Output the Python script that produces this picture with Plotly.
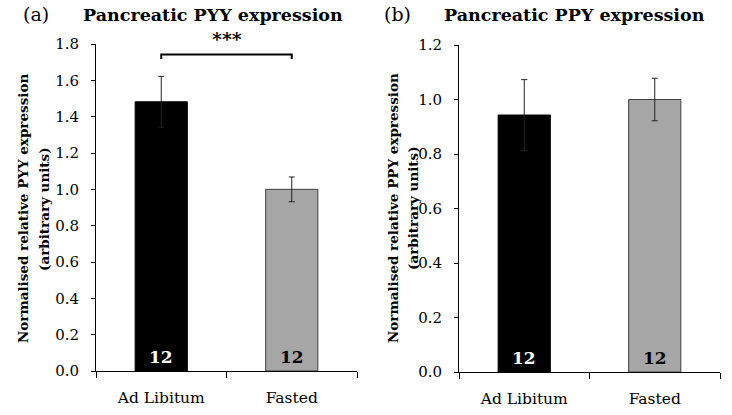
import plotly.graph_objects as go

categories = ["Ad Libitum", "Fasted"]
pyy_values = [1.482, 1.0]
pyy_errors = [0.14, 0.068]
ppy_values = [0.943, 1.0]
ppy_errors = [0.13, 0.078]
n_labels = ["12", "12"]
bar_colors = ["#000000", "#a6a6a6"]
bar_lines = ["#000000", "#404040"]
n_colors = ["#ffffff", "#000000"]
pyy_ticks = [0, 0.2, 0.4, 0.6, 0.8, 1.0, 1.2, 1.4, 1.6, 1.8]
ppy_ticks = [0, 0.2, 0.4, 0.6, 0.8, 1.0, 1.2]

FONT = "DejaVu Serif"
W, H = 732, 415

fig = go.Figure()
for vals, errs, xa, ya in [(pyy_values, pyy_errors, "x", "y"), (ppy_values, ppy_errors, "x2", "y2")]:
    fig.add_trace(go.Bar(
        x=categories, y=vals, xaxis=xa, yaxis=ya, width=0.4,
        marker=dict(color=bar_colors, line=dict(color=bar_lines, width=1)),
        error_y=dict(type="data", array=errs, visible=True, color="#222222", thickness=1, width=3),
        showlegend=False, hoverinfo="skip",
    ))

axis_common = dict(showline=True, linecolor="#000000", linewidth=1, ticks="outside",
                   tickcolor="#000000", showgrid=False, zeroline=False, automargin=False)
xfont = dict(family=FONT, size=15.5, color="#000000")
yfont = dict(family=FONT, size=15, color="#000000")

fig.update_layout(
    template="none",
    width=W, height=H, margin=dict(l=0, r=0, t=0, b=0, pad=0, autoexpand=False),
    paper_bgcolor="white", plot_bgcolor="white", bargap=0.6,
    xaxis=dict(domain=[96 / W, 357 / W], anchor="y", type="category", tickson="boundaries",
               ticklen=6, ticklabelstandoff=12, range=[-0.5, 1.5], tickfont=xfont, **axis_common),
    yaxis=dict(domain=[(H - 371) / H, (H - 44) / H], anchor="x", range=[0, 1.8],
               tickvals=pyy_ticks, tickformat=".1f", ticklen=4, ticklabelstandoff=9,
               tickfont=yfont, **axis_common),
    xaxis2=dict(domain=[459 / W, 720 / W], anchor="y2", type="category", tickson="boundaries",
                ticklen=6, ticklabelstandoff=12, range=[-0.5, 1.5], tickfont=xfont, **axis_common),
    yaxis2=dict(domain=[(H - 372) / H, (H - 45) / H], anchor="x2", range=[0, 1.2],
                tickvals=ppy_ticks, tickformat=".1f", ticklen=4, ticklabelstandoff=9,
                tickfont=yfont, **axis_common),
)

def pann(text, x, y, size, angle=0):
    return dict(text=text, x=x / W, y=1 - y / H, xref="paper", yref="paper", showarrow=False,
                xanchor="center", yanchor="middle", textangle=angle,
                font=dict(family=FONT, size=size, color="#000"))

ann = []
ann.append(pann("(a)", 36, 14, 19))
ann.append(pann("<b>Pancreatic PYY expression</b>", 213, 15, 17.5))
ann.append(pann("(b)", 397, 14, 19))
ann.append(pann("<b>Pancreatic PPY expression</b>", 574, 15, 17.5))
for x1, x2, yc, lab in [(23, 44, 209, "PYY"), (393, 413, 208, "PPY")]:
    ann.append(pann(f"<b>Normalised relative {lab} expression</b>", x1, yc, 13.5, -90))
    ann.append(pann("<b>(arbitrary units)</b>", x2, yc, 13.5, -90))
for xa, ya in [("x", "y"), ("x2", "y2")]:
    for c, n, col in zip(categories, n_labels, n_colors):
        ann.append(dict(text=f"<b>{n}</b>", x=c, y=0, xref=xa, yref=ya, xanchor="center",
                        yanchor="bottom", yshift=2, showarrow=False,
                        font=dict(family=FONT, size=17, color=col)))
ann.append(dict(text="<b>***</b>", x=0.5, y=1.742, xref="x", yref="y", xanchor="center",
                yanchor="bottom", yshift=3, showarrow=False,
                font=dict(family=FONT, size=19, color="#000")))
fig.update_layout(annotations=ann)

fig.add_shape(type="path", xref="x", yref="y",
              path="M 0,1.717 L 0,1.742 L 1,1.742 L 1,1.717",
              line=dict(color="#000000", width=2))

fig.write_html("out.html", config={"displayModeBar": False},
               post_script="document.body.style.margin='0';")
